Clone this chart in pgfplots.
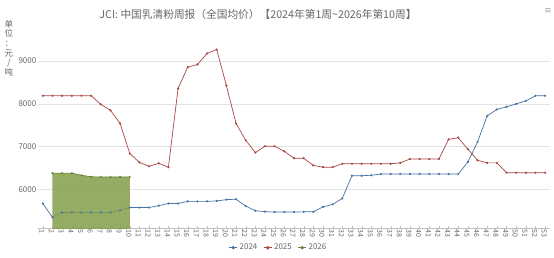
\documentclass[border=0pt]{standalone}
\usepackage{fontspec}
\setmainfont{Noto Sans CJK SC}
\newfontfamily\symfont{DejaVu Sans}
\usepackage{pgfplots}
\pgfplotsset{compat=1.18}
\definecolor{c24}{HTML}{4572A7}
\definecolor{c25}{HTML}{AA4643}
\definecolor{c26}{HTML}{89A54E}
\definecolor{txt}{HTML}{666666}
\definecolor{grd}{HTML}{E3E3E3}
\begin{document}
\begin{tikzpicture}[x=1pt,y=1pt]
\begin{axis}[
  scale only axis, width=512pt, height=180pt,
  xmin=0.5, xmax=53.5, ymin=5090, ymax=9300,
  xtick={1,...,53},
  ytick={6000,7000,8000,9000},
  ymajorgrids, grid style={grd, line width=0.6pt},
  axis x line*=bottom, axis y line*=left,
  x axis line style={draw=black!25, -},
  y axis line style={draw=none},
  major tick length=2pt,
  xtick style={draw=black!25},
  ytick style={draw=none},
  tick label style={text=txt},
  xticklabel style={rotate=-90, anchor=west, font=\fontsize{7}{8}\selectfont, inner sep=1pt, yshift=-1pt},
  yticklabel style={font=\fontsize{8}{9}\selectfont, inner sep=1.5pt},
  /pgf/number format/assume math mode=true,
  /pgf/number format/1000 sep={},
  clip=true,
  legend columns=3,
  legend style={at={(0.47,-0.108)}, anchor=center, draw=none, fill=none,
    font=\fontsize{8}{9}\selectfont, text=txt,
    /tikz/every even column/.append style={column sep=4pt}},
  legend cell align=left,
  legend image code/.code={\draw[#1] (0pt,0pt) -- (8pt,0pt); \fill[#1] (4pt,0pt) circle (1.3pt);},
]
\addplot[c24, line width=0.7pt, mark=*, mark size=0.7pt] coordinates {
(1,5670)(2,5345)(3,5460)(4,5460)(5,5460)(6,5460)(7,5460)(8,5460)(9,5510)(10,5575)
(11,5575)(12,5575)(13,5620)(14,5670)(15,5670)(16,5720)(17,5720)(18,5720)(19,5730)(20,5760)
(21,5770)(22,5610)(23,5500)(24,5480)(25,5470)(26,5470)(27,5470)(28,5475)(29,5475)(30,5590)
(31,5650)(32,5790)(33,6320)(34,6320)(35,6330)(36,6360)(37,6360)(38,6360)(39,6360)(40,6360)
(41,6360)(42,6360)(43,6360)(44,6360)(45,6640)(46,7110)(47,7720)(48,7870)(49,7930)(50,8000)
(51,8070)(52,8190)(53,8190)};
\addlegendentry{2024}
\addplot[c25, line width=0.7pt, mark=*, mark size=0.7pt] coordinates {
(1,8190)(2,8190)(3,8190)(4,8190)(5,8190)(6,8190)(7,7990)(8,7850)(9,7540)(10,6840)
(11,6630)(12,6540)(13,6610)(14,6520)(15,8360)(16,8860)(17,8920)(18,9180)(19,9270)(20,8430)
(21,7540)(22,7150)(23,6860)(24,7010)(25,7010)(26,6890)(27,6730)(28,6730)(29,6560)(30,6520)
(31,6520)(32,6600)(33,6600)(34,6600)(35,6600)(36,6600)(37,6600)(38,6620)(39,6710)(40,6710)
(41,6710)(42,6710)(43,7170)(44,7210)(45,6940)(46,6680)(47,6620)(48,6620)(49,6390)(50,6390)
(51,6390)(52,6390)(53,6390)};
\addlegendentry{2025}
\addplot[draw=none, fill=c26!95!black, fill opacity=0.85, forget plot] coordinates {
(2,6380)(3,6380)(4,6380)(5,6330)(6,6295)(7,6290)(8,6290)(9,6290)(10,6290)} -- (axis cs:10,5000) -- (axis cs:2,5000) -- cycle;
\addplot[c26!80!black, line width=0.7pt, mark=*, mark size=0.7pt] coordinates {
(2,6380)(3,6380)(4,6380)(5,6330)(6,6295)(7,6290)(8,6290)(9,6290)(10,6290)};
\addlegendentry{2026}
\coordinate (bl) at (rel axis cs:0,0);
\end{axis}
\begin{scope}[shift={(bl)}, xshift=-38pt, yshift=-28.7pt]
\path[use as bounding box] (0,0) rectangle (554,257);
\node[text=txt,font=\fontsize{10.7}{12}\selectfont] at (258,243) {JCI: 中国乳清粉周报（全国均价）【2024年第1周\textasciitilde2026年第10周】};
\node[text=black!35,font=\symfont\fontsize{9}{9}\selectfont] at (548,246) {≡};
\node[text=txt,font=\fontsize{8.5}{9.6}\selectfont,align=center,inner sep=0pt,anchor=north] at (9,237) {单\\位\\：\\元\\/\\吨};
\end{scope}
\end{tikzpicture}
\end{document}
